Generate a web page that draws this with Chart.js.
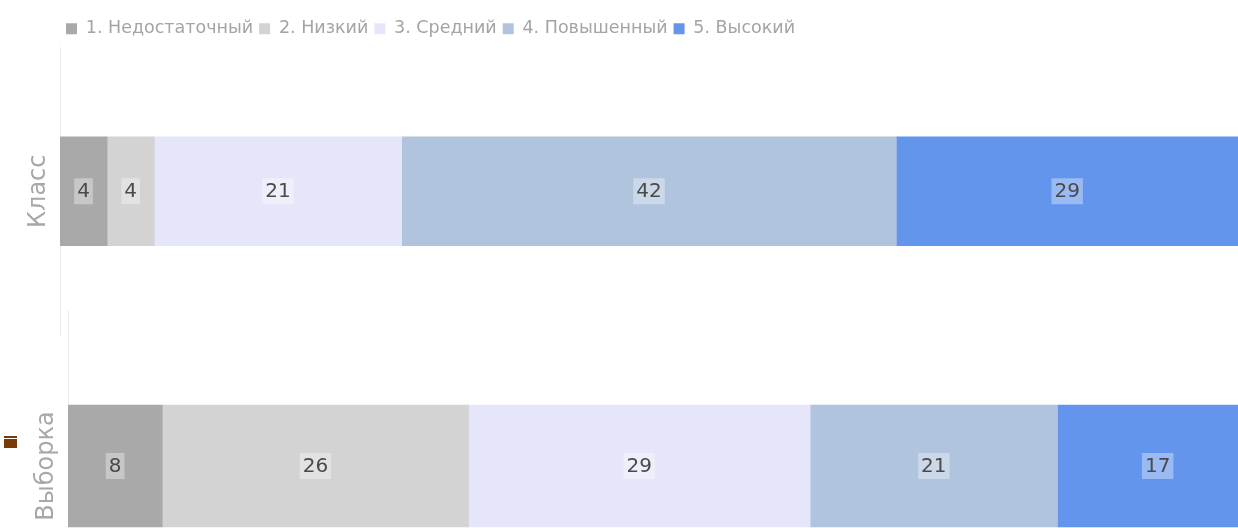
<!DOCTYPE html>
<html>
<head>
<meta charset="utf-8">
<script src="https://cdn.jsdelivr.net/npm/chart.js@4.4.0/dist/chart.umd.min.js"></script>
<style>
  html, body { margin: 0; padding: 0; background: #fff; overflow: hidden; }
  body { width: 1238px; height: 528px; position: relative; }
  #chart-klass { position: absolute; left: 0; top: 0; }
  #chart-vyborka { position: absolute; left: 8px; top: 300px; }
  .mark { position: absolute; left: 4px; width: 13px; background: #7a3a06; }
</style>
</head>
<body>
<canvas id="chart-klass" width="1238" height="345"></canvas>
<canvas id="chart-vyborka" width="1238" height="330"></canvas>
<div class="mark" style="top:436px;height:2px"></div>
<div class="mark" style="top:439px;height:9px"></div>

<script>
const levels = ['1. Недостаточный', '2. Низкий', '3. Средний', '4. Повышенный', '5. Высокий'];
const levelColors = ['#a9a9a9', '#d3d3d3', '#e6e6fa', '#b0c4de', '#6495ed'];
const groups = ['Класс', 'Выборка'];
const klassValues = [4, 4, 21, 42, 29];
const vyborkaValues = [8, 26, 29, 21, 17];

Chart.defaults.font.family = '"DejaVu Sans", sans-serif';

// подписи значений по центру каждого сегмента
const valueLabels = {
    id: 'valueLabels',
    afterDatasetsDraw(chart) {
        const ctx = chart.ctx;
        ctx.save();
        ctx.font = '20px "DejaVu Sans"';
        ctx.textAlign = 'center';
        ctx.textBaseline = 'middle';
        chart.data.datasets.forEach((ds, i) => {
            chart.getDatasetMeta(i).data.forEach((bar, j) => {
                const p = bar.getCenterPoint();
                const text = String(ds.data[j]);
                const w = ctx.measureText(text).width;
                ctx.fillStyle = 'rgba(255,255,255,0.35)';
                ctx.fillRect(p.x - w / 2 - 3, p.y - 13, w + 6, 26);
                ctx.fillStyle = '#4a4a4a';
                ctx.fillText(text, p.x, p.y + 1);
            });
        });
        ctx.restore();
    }
};

function makeChart(id, group, values, showLegend, thickness, padTop, padBottom) {
    const ctx = document.getElementById(id).getContext('2d');
    return new Chart(ctx, {
        type: 'bar',
        data: {
            labels: [group],
            datasets: levels.map((lvl, i) => ({
                label: lvl,
                data: [values[i]],
                backgroundColor: levelColors[i],
                borderWidth: 0,
                barThickness: thickness
            }))
        },
        options: {
            indexAxis: 'y',
            responsive: false,
            animation: false,
            layout: { padding: { top: padTop, bottom: padBottom, left: 0, right: 0 } },
            plugins: {
                legend: {
                    display: showLegend,
                    position: 'top',
                    align: 'start',
                    fullSize: false,
                    labels: {
                        boxWidth: 11,
                        boxHeight: 11,
                        padding: 6,
                        color: '#a4a4a4',
                        font: { size: 17.5 }
                    }
                },
                tooltip: { enabled: false }
            },
            scales: {
                x: {
                    stacked: true,
                    display: false,
                    min: 0,
                    max: 100
                },
                y: {
                    stacked: true,
                    grid: { display: false, drawTicks: false },
                    border: { display: true, color: '#ececec' },
                    ticks: { display: false },
                    title: {
                        display: true,
                        text: group,
                        color: '#a8a8a8',
                        font: { size: 24 },
                        padding: { top: 24.6, bottom: 6.6 }
                    }
                }
            }
        },
        plugins: [valueLabels]
    });
}

makeChart('chart-klass', groups[0], klassValues, true, 109, 14, 10);
makeChart('chart-vyborka', groups[1], vyborkaValues, false, 122, 10, 8);
</script>
</body>
</html>
